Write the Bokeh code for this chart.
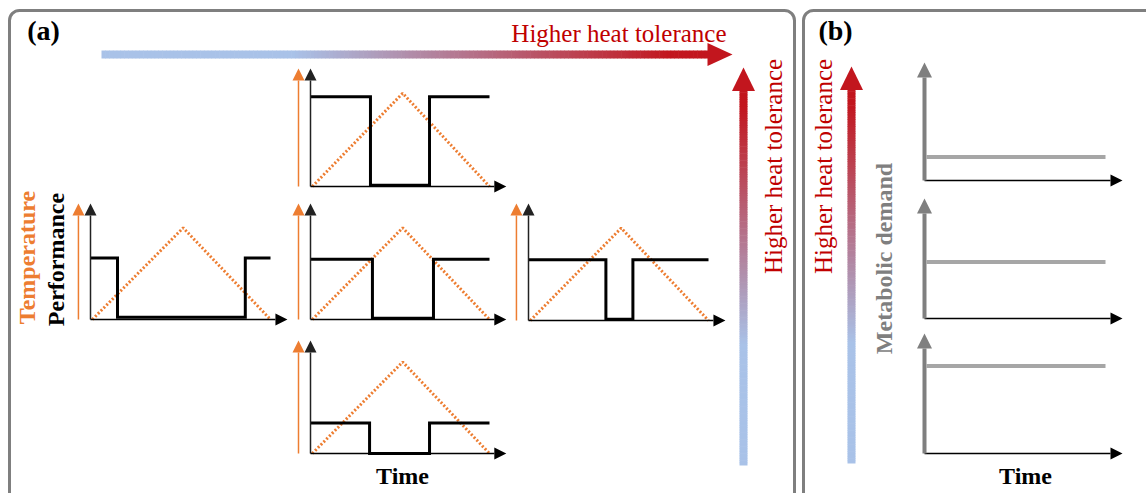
import numpy as np
from bokeh.plotting import figure
from bokeh.models import Range1d, Arrow, NormalHead, Label, BoxAnnotation
from bokeh.embed import file_html
from bokeh.resources import INLINE

# ---------------- data ----------------
# Panel (a): five thermal-performance scenarios (time and level are relative units)
scenarios = ["top", "left", "centre", "right", "bottom"]
perf_high = [0.76, 0.53, 0.52, 0.52, 0.27]      # performance below the thermal threshold
perf_low = [0.01, 0.02, 0.01, 0.01, 0.00]       # performance above the thermal threshold
drop_time = [0.335, 0.15, 0.346, 0.43, 0.33]    # time performance collapses
recover_time = [0.665, 0.86, 0.687, 0.58, 0.665]  # time performance recovers
temp_peak = [0.79, 0.79, 0.79, 0.79, 0.81]      # peak of the temperature ramp
temp_time = [0.01, 0.515, 1.0]                  # start, peak, end of the ramp

# Panel (b): metabolic demand in three scenarios (top to bottom)
demand_level = [0.20, 0.47, 0.73]

# ---------------- layout (canvas pixels) ----------------
W, H = 1146, 493
# origin x, origin y, pixels per time unit, pixels per level unit
layout_a = {
    "top": (310, 186, 179, 118),
    "left": (90, 319, 180, 116),
    "centre": (310, 319, 179, 116),
    "right": (528, 320, 180, 117),
    "bottom": (310, 453, 179, 113),
}
layout_b = [(924, 180, 181, 118), (924, 318, 181, 120), (924, 453, 181, 120)]

ORANGE = "#ED7D31"
GREY = "#7F7F7F"
LIGHT_GREY = "#A6A6A6"
RED_TXT = "#C00000"
BLUE_RGB = np.array([169, 194, 232])
RED_RGB = np.array([194, 22, 30])
SERIF = "Liberation Serif"

p = figure(width=W, height=H, x_range=Range1d(0, W), y_range=Range1d(H, 0),
           output_backend="svg", toolbar_location=None, min_border=0,
           x_axis_type=None, y_axis_type=None, outline_line_color=None,
           background_fill_color="white", border_fill_color="white")

xr, yr = {}, {}


def add_frame(name, ox, oy, wpx, hpx):
    xr[name] = Range1d(-ox / wpx, (W - ox) / wpx)
    yr[name] = Range1d((oy - H) / hpx, oy / hpx)


for name in scenarios:
    add_frame(name, *layout_a[name])
for i, lay in enumerate(layout_b):
    add_frame(f"b{i}", *lay)
p.extra_x_ranges = xr
p.extra_y_ranges = yr


def arrow(name, x0, y0, x1, y1, color, lw, head):
    p.add_layout(Arrow(x_start=x0, y_start=y0, x_end=x1, y_end=y1,
                       x_range_name=name, y_range_name=name,
                       line_color=color, line_width=lw,
                       end=NormalHead(size=head, fill_color=color, line_color=None)))


# ---- panel borders ----
for left, right in [(9, 794), (803, 1170)]:
    p.add_layout(BoxAnnotation(left=left, right=right, top=10, bottom=530,
                               border_radius=10, fill_alpha=0, line_alpha=1,
                               line_color=GREY, line_width=3))

# ---- panel (a) mini charts ----
for k, name in enumerate(scenarios):
    kw = dict(x_range_name=name, y_range_name=name)
    # temperature ramp
    p.line(temp_time, [0, temp_peak[k], 0], line_color=ORANGE, line_width=3,
           line_dash="2 2", **kw)
    # performance step curve
    d, r = drop_time[k], recover_time[k]
    hi, lo = perf_high[k], perf_low[k]
    p.line([0, d, d, r, r, 1.0], [hi, hi, lo, lo, hi, hi], line_color="black",
           line_width=3, line_join="miter", **kw)
    # axes
    arrow(name, -0.067, 0, -0.067, 1.0, ORANGE, 1.5, 12)
    arrow(name, 0, 0, 0, 1.0, "#222222", 1.5, 12)
    arrow(name, 0, 0, 1.094, 0, "black", 1.5, 12)

# ---- panel (b) mini charts ----
for i, lvl in enumerate(demand_level):
    name = f"b{i}"
    p.line([0.012, 1.0], [lvl, lvl], line_color=LIGHT_GREY, line_width=4,
           x_range_name=name, y_range_name=name)
    arrow(name, 0, 0, 1.094, 0, "black", 1.5, 12)
    arrow(name, 0, 0, 0, 1.0, GREY, 4, 15)


# ---- gradient arrows ----
def grad_rgb(f):
    s = min(max((f - 0.3) / 0.6, 0.0), 1.0)
    c = BLUE_RGB + s * (RED_RGB - BLUE_RGB)
    return "#%02x%02x%02x" % tuple(int(round(v)) for v in c)


n = 160
# horizontal arrow along the top of panel (a)
hx0, hx1, hy, hw = 101, 708, 54, 8
edges = np.linspace(hx0, hx1, n + 1)
cols = [grad_rgb((edges[j] - hx0) / (732 - hx0)) for j in range(n)]
p.quad(left=edges[:-1], right=edges[1:] + 0.6, top=hy - hw / 2, bottom=hy + hw / 2,
       fill_color=cols, line_color=None)
p.patch([707, 732, 707], [42.5, hy, 65.5], fill_color=grad_rgb(1.0), line_color=None)

# vertical arrows
for vx, vtop, vbot, tip in [(743, 90, 465, 67), (851, 89, 463, 66)]:
    e = np.linspace(vbot, vtop, n + 1)
    cols = [grad_rgb((vbot - e[j]) / (vbot - tip)) for j in range(n)]
    p.quad(left=vx - 4, right=vx + 4, top=e[1:] - 0.6, bottom=e[:-1],
           fill_color=cols, line_color=None)
    p.patch([vx - 11.5, vx, vx + 11.5], [vtop + 0.5, tip, vtop + 0.5],
            fill_color=grad_rgb(1.0), line_color=None)


# ---- text ----
def label(x, y, text, size, color="black", bold=False, angle=0.0, align="center"):
    p.add_layout(Label(x=x, y=y, text=text, text_font=SERIF,
                       text_font_size=f"{size}px", text_color=color,
                       text_font_style="bold" if bold else "normal",
                       text_align=align, text_baseline="middle", angle=angle))


label(43, 30, "(a)", 28, bold=True)
label(835, 30, "(b)", 28, bold=True)
label(726, 33, "Higher heat tolerance", 25, RED_TXT, align="right")
label(773, 166, "Higher heat tolerance", 25, RED_TXT, angle=np.pi / 2)
label(823, 166, "Higher heat tolerance", 25, RED_TXT, angle=np.pi / 2)
label(26, 257, "Temperature", 24, ORANGE, bold=True, angle=np.pi / 2)
label(55, 259, "Performance", 24, bold=True, angle=np.pi / 2)
label(883, 258, "Metabolic demand", 24, GREY, bold=True, angle=np.pi / 2)
label(402, 475, "Time", 24, bold=True)
label(1025, 475, "Time", 24, bold=True)

open("out.html", "w").write(file_html(p, INLINE))
